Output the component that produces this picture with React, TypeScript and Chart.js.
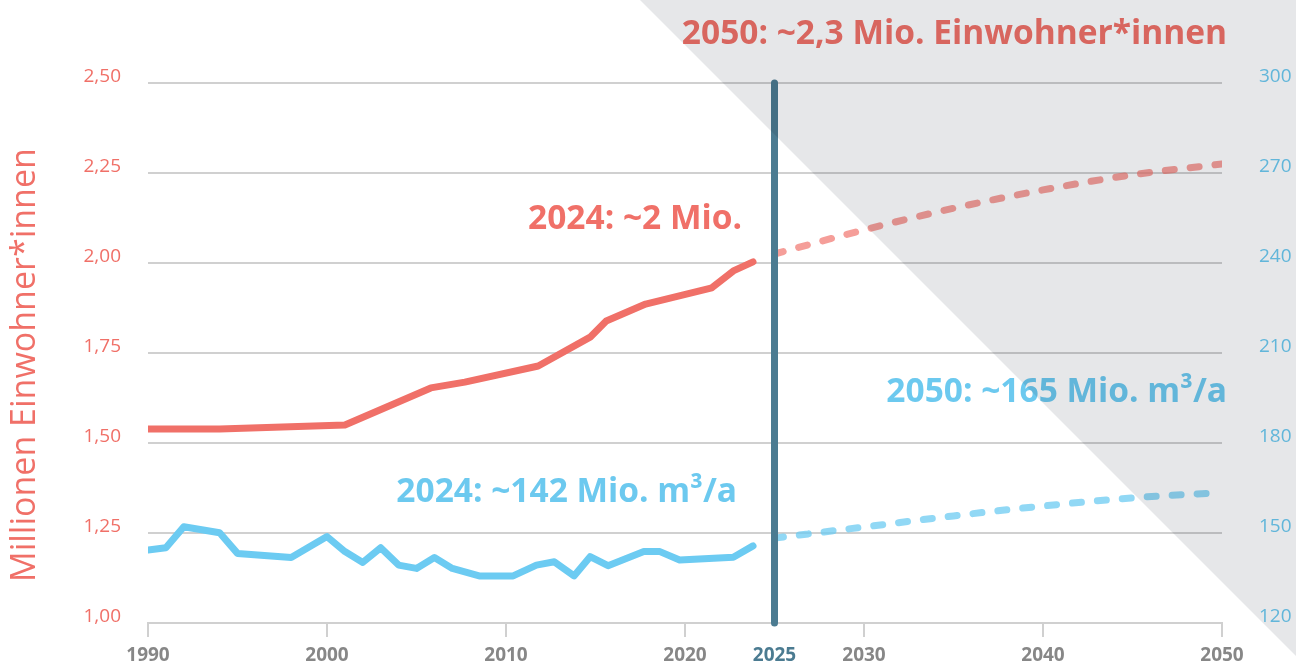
import React, { useEffect, useRef } from "react";
import { Chart, registerables } from "chart.js";

Chart.register(...registerables);

// Population (Mio.), left axis
const popYears = [1990, 1994, 2001, 2005.8, 2007.7, 2011.8, 2014.7, 2015.6, 2017.8, 2021.5, 2022.7, 2023.8];
const popValues = [1.539, 1.539, 1.55, 1.653, 1.669, 1.714, 1.794, 1.839, 1.886, 1.931, 1.978, 2.003];

// Water demand (Mio. m³/a), right axis
const waterYears = [1990, 1991, 1992, 1994, 1995, 1998, 2000, 2001, 2002, 2003, 2004, 2005, 2006, 2007, 2008.5, 2010.4, 2011.7, 2012.7, 2013.8, 2014.7, 2015.7, 2017.7, 2018.6, 2019.7, 2022.7, 2023.8];
const waterValues = [144.3, 145.1, 152.1, 150.1, 143.2, 141.8, 148.8, 143.8, 140.2, 145.1, 139.3, 138.2, 141.8, 138.2, 135.7, 135.7, 139.3, 140.4, 135.7, 142.1, 139.1, 143.8, 143.8, 141, 141.9, 145.7];

// Forecasts
const forecastYears = [2025, 2030, 2035, 2040, 2045, 2050];
const forecastPop = [2.025, 2.092, 2.152, 2.203, 2.245, 2.275];
const forecastWater = [148.3, 152, 155.7, 159, 161.7, 163.5];

// Axis ticks
const xTickValues = [1990, 2000, 2010, 2020, 2025, 2030, 2040, 2050];
const leftTickValues = [1.0, 1.25, 1.5, 1.75, 2.0, 2.25, 2.5];
const rightTickValues = [120, 150, 180, 210, 240, 270, 300];

// Texts
const leftAxisTitle = "Millionen Einwohner*innen";
const labelPop2050 = "2050: ~2,3 Mio. Einwohner*innen";
const labelPop2024 = "2024: ~2 Mio.";
const labelWater2050 = "2050: ~165 Mio. m³/a";
const labelWater2024 = "2024: ~142 Mio. m³/a";
const markerYear = 2025;

const RED = "#f07068";
const RED_DASH = "rgba(240,112,104,0.68)";
const BLUE = "#6ccbf2";
const BLUE_DASH = "rgba(108,203,242,0.75)";
const BLUE_TEXT = "#6cc9ef";
const TEAL = "#4b7b91";
const GRID = "#d0d0d0";
const FONT = "'Open Sans', Lato, sans-serif";

const overlayPlugin = {
  id: "overlay",
  beforeDraw(chart: any) {
    const ctx = chart.ctx;
    ctx.save();
    ctx.fillStyle = "#ffffff";
    ctx.fillRect(0, 0, chart.width, chart.height);
    ctx.restore();
  },
  afterDraw(chart: any) {
    const ctx = chart.ctx;
    const xs = chart.scales.x;
    const ys = chart.scales.y;
    // vertical 2025 line
    const vx = xs.getPixelForValue(markerYear);
    ctx.save();
    ctx.strokeStyle = TEAL;
    ctx.lineWidth = 7;
    ctx.lineCap = "round";
    ctx.beginPath();
    ctx.moveTo(vx, ys.getPixelForValue(2.5));
    ctx.lineTo(vx, ys.getPixelForValue(1.0));
    ctx.stroke();
    ctx.restore();

    // annotations
    ctx.save();
    ctx.font = `bold 33.5px ${FONT}`;
    ctx.textBaseline = "alphabetic";
    ctx.textAlign = "right";
    ctx.fillStyle = RED;
    ctx.fillText(labelPop2050, 1227, 44);
    ctx.fillText(labelPop2024, 742, 229);
    ctx.fillStyle = BLUE_TEXT;
    ctx.fillText(labelWater2050, 1227, 402);
    ctx.fillText(labelWater2024, 737, 502);
    ctx.restore();

    // left axis title
    ctx.save();
    ctx.font = `34px ${FONT}`;
    ctx.fillStyle = RED;
    ctx.textAlign = "center";
    ctx.textBaseline = "alphabetic";
    ctx.translate(35, 365);
    ctx.rotate(-Math.PI / 2);
    ctx.fillText(leftAxisTitle, 0, 0);
    ctx.restore();

    // gray triangle
    ctx.save();
    ctx.globalCompositeOperation = "multiply";
    ctx.fillStyle = "#e6e7e9";
    ctx.beginPath();
    ctx.moveTo(640, 0);
    ctx.lineTo(chart.width, 0);
    ctx.lineTo(chart.width, 656);
    ctx.closePath();
    ctx.fill();
    ctx.restore();
  },
};

export default function App() {
  const canvasRef = useRef<HTMLCanvasElement | null>(null);

  useEffect(() => {
    const canvas = canvasRef.current;
    if (!canvas) return;
    const toPts = (xs: number[], ys: number[]) => xs.map((x, i) => ({ x, y: ys[i] }));
    const chart = new Chart(canvas, {
      type: "line",
      data: {
        datasets: [
          {
            data: toPts(popYears, popValues),
            yAxisID: "y",
            borderColor: RED,
            borderWidth: 7,
            pointRadius: 0,
            tension: 0,
            borderCapStyle: "round",
            borderJoinStyle: "round",
          },
          {
            data: toPts(waterYears, waterValues),
            yAxisID: "y1",
            borderColor: BLUE,
            borderWidth: 7,
            pointRadius: 0,
            tension: 0,
            borderCapStyle: "round",
            borderJoinStyle: "round",
          },
          {
            data: toPts(forecastYears, forecastPop),
            yAxisID: "y",
            borderColor: RED_DASH,
            borderWidth: 7,
            pointRadius: 0,
            cubicInterpolationMode: "monotone",
            borderDash: [9, 16],
            borderCapStyle: "round",
          },
          {
            data: toPts(forecastYears, forecastWater),
            yAxisID: "y1",
            borderColor: BLUE_DASH,
            borderWidth: 7,
            pointRadius: 0,
            cubicInterpolationMode: "monotone",
            borderDash: [9, 16],
            borderCapStyle: "round",
          },
        ],
      } as any,
      options: {
        responsive: false,
        animation: false,
        layout: { autoPadding: false, padding: { top: 83, left: 0, right: 0, bottom: 0 } },
        plugins: { legend: { display: false }, tooltip: { enabled: false } },
        scales: {
          x: {
            type: "linear",
            min: 1990,
            max: 2050,
            afterBuildTicks: (s: any) => {
              s.ticks = xTickValues.map((v) => ({ value: v }));
            },
            afterFit: (s: any) => {
              s.height = 41;
            },
            grid: {
              drawOnChartArea: false,
              drawTicks: true,
              tickLength: 14,
              lineWidth: 2,
              color: (c: any) => (c.tick && c.tick.value === markerYear ? "rgba(0,0,0,0)" : GRID),
            },
            border: { display: true, color: GRID, width: 2 },
            ticks: {
              autoSkip: false,
              maxRotation: 0,
              padding: 7,
              font: { family: FONT, size: 19, weight: "bold" },
              color: (c: any) => (c.tick && c.tick.value === markerYear ? TEAL : "#878787"),
              callback: (v: any) => String(v),
            },
          },
          y: {
            position: "left",
            min: 1,
            max: 2.5,
            afterBuildTicks: (s: any) => {
              s.ticks = leftTickValues.map((v) => ({ value: v }));
            },
            afterFit: (s: any) => {
              s.width = 148;
            },
            grid: { color: GRID, lineWidth: 2, drawTicks: true, tickLength: 27, tickColor: "rgba(0,0,0,0)" },
            border: { display: false },
            ticks: {
              padding: 0,
              labelOffset: -6,
              color: RED,
              font: { family: FONT, size: 19 },
              callback: (v: any) => Number(v).toFixed(2).replace(".", ","),
            },
          },
          y1: {
            position: "right",
            min: 120,
            max: 300,
            afterBuildTicks: (s: any) => {
              s.ticks = rightTickValues.map((v) => ({ value: v }));
            },
            afterFit: (s: any) => {
              s.width = 74;
            },
            grid: { display: false, drawTicks: true, tickLength: 37 },
            border: { display: false },
            ticks: {
              padding: 0,
              labelOffset: -6,
              color: BLUE_TEXT,
              font: { family: FONT, size: 19 },
              callback: (v: any) => String(v),
            },
          },
        },
      } as any,
      plugins: [overlayPlugin],
    });
    return () => chart.destroy();
  }, []);

  return (
    <div style={{ position: "absolute", left: 0, top: 0, width: 1296, height: 664, background: "#fff" }}>
      <canvas ref={canvasRef} width={1296} height={664} style={{ display: "block", width: 1296, height: 664 }} />
    </div>
  );
}
